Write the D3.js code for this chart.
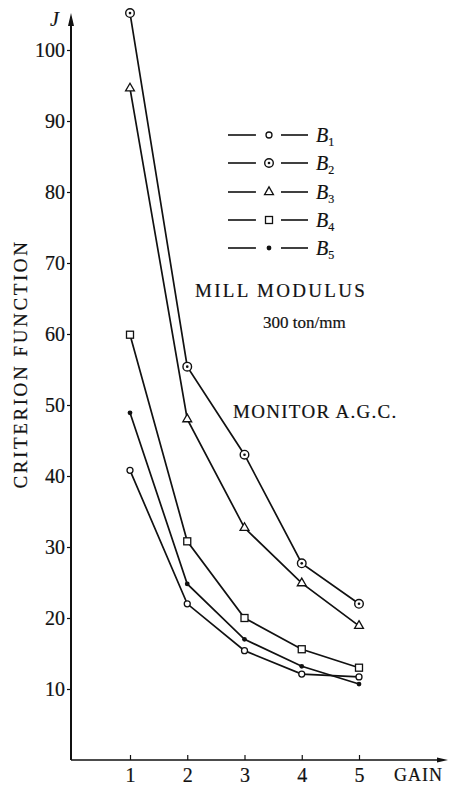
<!DOCTYPE html>
<html>
<head>
<meta charset="utf-8">
<script src="https://cdn.jsdelivr.net/npm/d3@7"></script>
<style>
  html, body { margin: 0; padding: 0; background: white; }
  text { font-family: "Liberation Serif", "DejaVu Serif", serif; fill: #111; stroke: #111; stroke-width: 0.2px; }
</style>
</head>
<body>
<div id="chart"></div>
<script>
// chart data
const gains = [1, 2, 3, 4, 5];
const seriesNames = ["B1", "B2", "B3", "B4", "B5"];
const b1 = [40.8, 22.0, 15.4, 12.1, 11.7];
const b2 = [105.2, 55.4, 43.0, 27.7, 22.0];
const b3 = [94.6, 48.0, 32.7, 24.9, 18.9];
const b4 = [59.9, 30.8, 20.0, 15.6, 13.0];
const b5 = [48.9, 24.8, 17.0, 13.2, 10.7];
const markerTypes = ["circle", "bullseye", "triangle", "square", "dot"];
const yTicks = [10, 20, 30, 40, 50, 60, 70, 80, 90, 100];

const width = 455;
const height = 786;

const svg = d3.select("#chart").append("svg")
  .attr("width", width).attr("height", height);

const x = d3.scaleLinear().domain([0, 5]).range([72.75, 359]);
const y = d3.scaleLinear().domain([0, 100]).range([760, 50]);

const series = [b1, b2, b3, b4, b5].map((vals, i) => ({
  name: seriesNames[i],
  marker: markerTypes[i],
  points: vals.map((v, j) => ({ g: gains[j], v: v }))
}));

// axes
const yAxis = svg.append("g")
  .attr("transform", "translate(71,0)")
  .call(d3.axisLeft(y).tickValues(yTicks).tickSize(4).tickPadding(2));
yAxis.select(".domain").remove();
yAxis.selectAll("line").attr("stroke", "#111").attr("stroke-width", 1.2);
yAxis.selectAll("text").style("font-size", "20px").attr("dy", "0.34em");

const xAxis = svg.append("g")
  .attr("transform", "translate(0,760)")
  .call(d3.axisBottom(x).tickValues(gains).tickSize(-5).tickPadding(8).tickFormat(d3.format("d")));
xAxis.select(".domain").remove();
xAxis.selectAll("line").attr("stroke", "#111").attr("stroke-width", 1.2);
xAxis.selectAll("text").style("font-size", "20px").attr("dy", "0.72em");

// axis lines with arrows
svg.append("line").attr("x1", 71).attr("y1", 760).attr("x2", 71).attr("y2", 20)
  .attr("stroke", "#111").attr("stroke-width", 2);
svg.append("path").attr("d", "M71,13 L68,26 L74,26 Z").attr("fill", "#111");
svg.append("line").attr("x1", 71).attr("y1", 760).attr("x2", 440).attr("y2", 760)
  .attr("stroke", "#111").attr("stroke-width", 1.6);
svg.append("path").attr("d", "M448,760 L437,757.5 L437,762.5 Z").attr("fill", "#111");

svg.append("text").attr("x", 50).attr("y", 26)
  .style("font-size", "20px").style("font-style", "italic").text("J");
svg.append("text").attr("x", 394).attr("y", 781)
  .style("font-size", "18px").style("letter-spacing", "1px").text("GAIN");

svg.append("text")
  .attr("transform", "translate(27,364) rotate(-90)")
  .attr("text-anchor", "middle")
  .style("font-size", "19px").style("letter-spacing", "2.6px")
  .text("CRITERION  FUNCTION");

// annotations
svg.append("text").attr("x", 195).attr("y", 297)
  .style("font-size", "19px").style("letter-spacing", "2.3px").text("MILL MODULUS");
svg.append("text").attr("x", 263).attr("y", 328)
  .style("font-size", "17px").text("300 ton/mm");
svg.append("text").attr("x", 233).attr("y", 418)
  .style("font-size", "19px").style("letter-spacing", "1.3px").text("MONITOR  A.G.C.");

// marker drawing
function drawMarker(g, type, cx, cy) {
  if (type === "circle") {
    g.append("circle").attr("cx", cx).attr("cy", cy).attr("r", 3)
      .attr("fill", "white").attr("stroke", "#111").attr("stroke-width", 1.3);
  } else if (type === "bullseye") {
    g.append("circle").attr("cx", cx).attr("cy", cy).attr("r", 4.3)
      .attr("fill", "white").attr("stroke", "#111").attr("stroke-width", 1.4);
    g.append("circle").attr("cx", cx).attr("cy", cy).attr("r", 1.3).attr("fill", "#111");
  } else if (type === "triangle") {
    g.append("path").attr("transform", `translate(${cx},${cy})`)
      .attr("d", d3.symbol(d3.symbolTriangle, 34)())
      .attr("fill", "white").attr("stroke", "#111").attr("stroke-width", 1.3);
  } else if (type === "square") {
    g.append("rect").attr("x", cx - 3.5).attr("y", cy - 3.5).attr("width", 7).attr("height", 7)
      .attr("fill", "white").attr("stroke", "#111").attr("stroke-width", 1.3);
  } else {
    g.append("circle").attr("cx", cx).attr("cy", cy).attr("r", 2.4).attr("fill", "#111");
  }
}

// lines and markers
const line = d3.line().x(d => x(d.g)).y(d => y(d.v));
series.forEach(s => {
  svg.append("path").datum(s.points).attr("d", line)
    .attr("fill", "none").attr("stroke", "#111").attr("stroke-width", 1.7);
});
series.forEach(s => {
  const g = svg.append("g");
  s.points.forEach(p => drawMarker(g, s.marker, x(p.g), y(p.v)));
});

// legend
const legendY = [135, 163, 192, 220, 248];
series.forEach((s, i) => {
  const ly = legendY[i];
  const g = svg.append("g");
  g.append("line").attr("x1", 228).attr("x2", 256).attr("y1", ly).attr("y2", ly)
    .attr("stroke", "#111").attr("stroke-width", 1.6);
  g.append("line").attr("x1", 281).attr("x2", 308).attr("y1", ly).attr("y2", ly)
    .attr("stroke", "#111").attr("stroke-width", 1.6);
  drawMarker(g, s.marker, 269, ly);
  const t = g.append("text").attr("x", 316).attr("y", ly + 7).style("font-size", "20px");
  t.append("tspan").style("font-style", "italic").text(s.name.charAt(0));
  t.append("tspan").attr("dy", 4).style("font-size", "12px").text(s.name.slice(1));
});
</script>
</body>
</html>
